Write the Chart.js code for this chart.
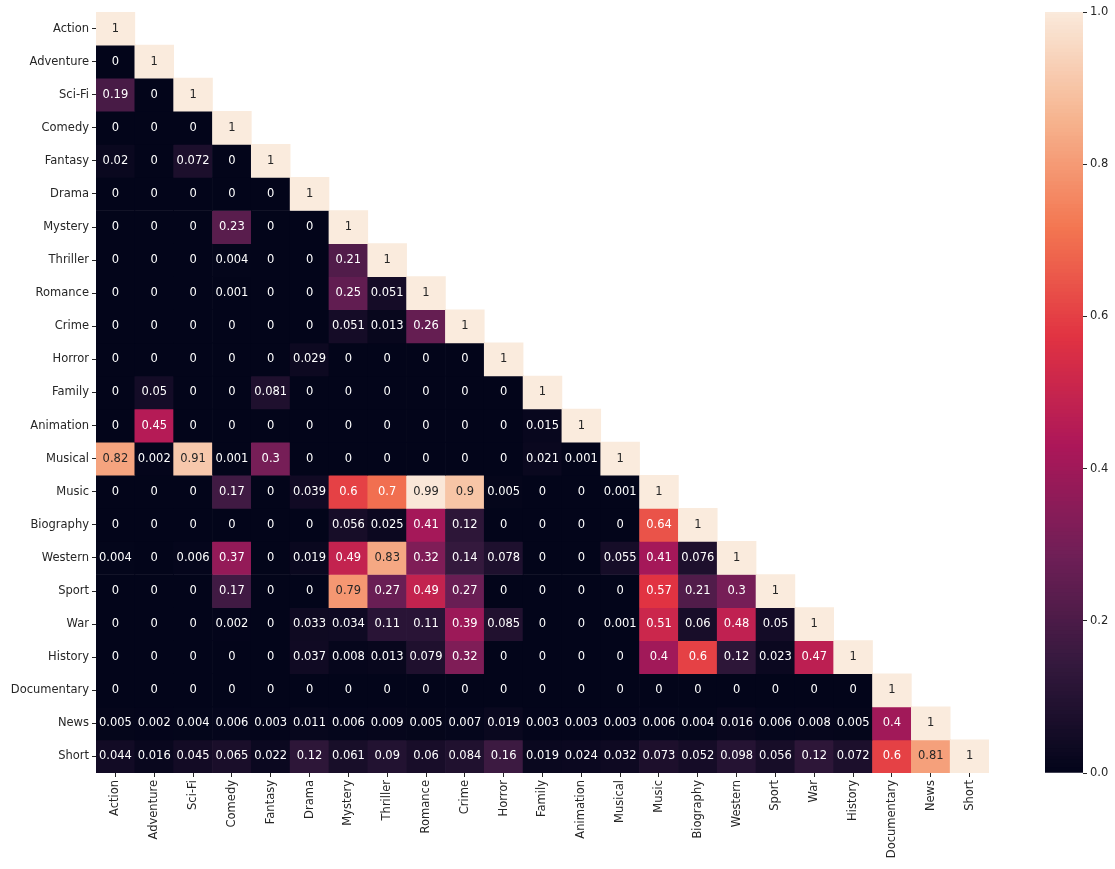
<!DOCTYPE html>
<html>
<head>
<meta charset="utf-8">
<script src="https://cdn.jsdelivr.net/npm/chart.js@4/dist/chart.umd.min.js"></script>
<style>
  body { margin: 0; background: #fff; }
  #wrap { position: relative; width: 1115px; height: 869px; }
  #heat { position: absolute; left: 0; top: 0; }
  #cbar { position: absolute; left: 1000px; top: 0; }
</style>
</head>
<body>
<div id="wrap">
  <canvas id="heat" width="1115" height="869"></canvas>
  <canvas id="cbar" width="115" height="869"></canvas>
</div>
<script>
const genres = ['Action', 'Adventure', 'Sci-Fi', 'Comedy', 'Fantasy', 'Drama', 'Mystery', 'Thriller',
  'Romance', 'Crime', 'Horror', 'Family', 'Animation', 'Musical', 'Music', 'Biography', 'Western',
  'Sport', 'War', 'History', 'Documentary', 'News', 'Short'];

// lower triangle of the correlation matrix, one row per genre
const corrRows = [
  [1],
  [0, 1],
  [0.19, 0, 1],
  [0, 0, 0, 1],
  [0.02, 0, 0.072, 0, 1],
  [0, 0, 0, 0, 0, 1],
  [0, 0, 0, 0.23, 0, 0, 1],
  [0, 0, 0, 0.004, 0, 0, 0.21, 1],
  [0, 0, 0, 0.001, 0, 0, 0.25, 0.051, 1],
  [0, 0, 0, 0, 0, 0, 0.051, 0.013, 0.26, 1],
  [0, 0, 0, 0, 0, 0.029, 0, 0, 0, 0, 1],
  [0, 0.05, 0, 0, 0.081, 0, 0, 0, 0, 0, 0, 1],
  [0, 0.45, 0, 0, 0, 0, 0, 0, 0, 0, 0, 0.015, 1],
  [0.82, 0.002, 0.91, 0.001, 0.3, 0, 0, 0, 0, 0, 0, 0.021, 0.001, 1],
  [0, 0, 0, 0.17, 0, 0.039, 0.6, 0.7, 0.99, 0.9, 0.005, 0, 0, 0.001, 1],
  [0, 0, 0, 0, 0, 0, 0.056, 0.025, 0.41, 0.12, 0, 0, 0, 0, 0.64, 1],
  [0.004, 0, 0.006, 0.37, 0, 0.019, 0.49, 0.83, 0.32, 0.14, 0.078, 0, 0, 0.055, 0.41, 0.076, 1],
  [0, 0, 0, 0.17, 0, 0, 0.79, 0.27, 0.49, 0.27, 0, 0, 0, 0, 0.57, 0.21, 0.3, 1],
  [0, 0, 0, 0.002, 0, 0.033, 0.034, 0.11, 0.11, 0.39, 0.085, 0, 0, 0.001, 0.51, 0.06, 0.48, 0.05, 1],
  [0, 0, 0, 0, 0, 0.037, 0.008, 0.013, 0.079, 0.32, 0, 0, 0, 0, 0.4, 0.6, 0.12, 0.023, 0.47, 1],
  [0, 0, 0, 0, 0, 0, 0, 0, 0, 0, 0, 0, 0, 0, 0, 0, 0, 0, 0, 0, 1],
  [0.005, 0.002, 0.004, 0.006, 0.003, 0.011, 0.006, 0.009, 0.005, 0.007, 0.019, 0.003, 0.003, 0.003, 0.006, 0.004, 0.016, 0.006, 0.008, 0.005, 0.4, 1],
  [0.044, 0.016, 0.045, 0.065, 0.022, 0.12, 0.061, 0.09, 0.06, 0.084, 0.16, 0.019, 0.024, 0.032, 0.073, 0.052, 0.098, 0.056, 0.12, 0.072, 0.6, 0.81, 1]
];

const cbarTicks = [0, 0.2, 0.4, 0.6, 0.8, 1.0];

// rough "rocket" colormap
const rocketStops = [
  [0.0, [3, 5, 26]],
  [0.143, [53, 25, 62]],
  [0.286, [112, 31, 87]],
  [0.429, [173, 23, 89]],
  [0.571, [225, 51, 66]],
  [0.714, [243, 118, 81]],
  [0.857, [246, 180, 143]],
  [1.0, [250, 235, 221]]
];

function rocket(v) {
  for (let i = 1; i < rocketStops.length; i++) {
    const [p1, c1] = rocketStops[i];
    const [p0, c0] = rocketStops[i - 1];
    if (v <= p1) {
      const t = (v - p0) / (p1 - p0);
      return c0.map((c, k) => Math.round(c + (c1[k] - c) * t));
    }
  }
  return rocketStops[rocketStops.length - 1][1];
}

function rgb(c) { return `rgb(${c[0]},${c[1]},${c[2]})`; }

function luminance(c) {
  const lin = c.map(x => {
    x /= 255;
    return x <= 0.03928 ? x / 12.92 : Math.pow((x + 0.055) / 1.055, 2.4);
  });
  return 0.2126 * lin[0] + 0.7152 * lin[1] + 0.0722 * lin[2];
}

const textColor = '#262626';
const font = { family: 'DejaVu Sans', size: 11.5 };

const heatDatasets = corrRows.map((row, r) => ({
  data: genres.map((g, c) => (c < row.length ? [r, r + 1] : null)),
  values: row,
  backgroundColor: genres.map((g, c) => (c < row.length ? rgb(rocket(row[c])) : 'transparent')),
  borderWidth: 0,
  grouped: false,
  barPercentage: 1,
  categoryPercentage: 1
}));

const annotate = {
  id: 'annotate',
  afterDatasetsDraw(chart) {
    const ctx = chart.ctx;
    ctx.save();
    ctx.font = `${font.size}px ${font.family}`;
    ctx.textAlign = 'center';
    ctx.textBaseline = 'middle';
    chart.data.datasets.forEach((ds, i) => {
      const meta = chart.getDatasetMeta(i);
      ds.values.forEach((v, c) => {
        const el = meta.data[c];
        const col = rocket(v);
        ctx.fillStyle = luminance(col) > 0.408 ? textColor : '#ffffff';
        ctx.fillText(String(v), el.x, (el.y + el.base) / 2);
      });
    });
    ctx.restore();
  }
};

new Chart(document.getElementById('heat'), {
  type: 'bar',
  data: { labels: genres, datasets: heatDatasets },
  plugins: [annotate],
  options: {
    responsive: false,
    animation: false,
    devicePixelRatio: 1,
    layout: { padding: { top: 12, right: 126, left: 0, bottom: 0 } },
    plugins: { legend: { display: false }, tooltip: { enabled: false } },
    scales: {
      x: {
        offset: true,
        grid: { drawOnChartArea: false, drawTicks: true, tickLength: 4, color: textColor, offset: false },
        border: { display: false },
        ticks: { autoSkip: false, maxRotation: 90, minRotation: 90, padding: 3, color: textColor, font },
        afterFit: (scale) => { scale.height = 96; }
      },
      y: {
        min: 0,
        max: genres.length,
        reverse: true,
        grid: { drawOnChartArea: false, drawTicks: true, tickLength: 4, color: textColor },
        border: { display: false },
        afterBuildTicks: (axis) => { axis.ticks = genres.map((g, i) => ({ value: i + 0.5 })); },
        ticks: { autoSkip: false, padding: 3, color: textColor, font, callback: (v) => genres[Math.floor(v)] },
        afterFit: (scale) => { scale.width = 96; }
      }
    }
  }
});

// colorbar built from thin floating bars
const cbarSteps = 200;
const cbarDatasets = [];
for (let k = 0; k < cbarSteps; k++) {
  const lo = k / cbarSteps;
  const hi = Math.min(1, (k + 1) / cbarSteps + 0.002);
  cbarDatasets.push({
    data: [[lo, hi]],
    backgroundColor: rgb(rocket((k + 0.5) / cbarSteps)),
    borderWidth: 0,
    grouped: false,
    barPercentage: 1,
    categoryPercentage: 1
  });
}

new Chart(document.getElementById('cbar'), {
  type: 'bar',
  data: { labels: [''], datasets: cbarDatasets },
  options: {
    responsive: false,
    animation: false,
    devicePixelRatio: 1,
    layout: { padding: { top: 12, right: 0, left: 45, bottom: 96 } },
    plugins: { legend: { display: false }, tooltip: { enabled: false } },
    scales: {
      x: { display: false },
      y: {
        position: 'right',
        min: 0,
        max: 1,
        grid: { drawOnChartArea: false, drawTicks: true, tickLength: 4, color: textColor },
        border: { display: false },
        afterBuildTicks: (axis) => { axis.ticks = cbarTicks.map(v => ({ value: v })); },
        ticks: { padding: 3, color: textColor, font, callback: (v) => v.toFixed(1) },
        afterFit: (scale) => { scale.width = 32; }
      }
    }
  }
});
</script>
</body>
</html>
